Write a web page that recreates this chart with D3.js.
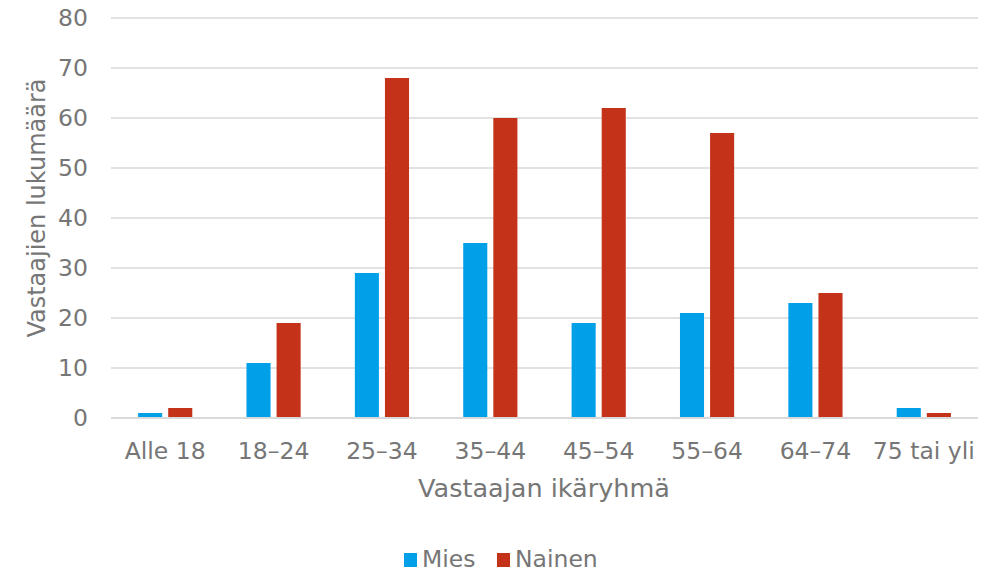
<!DOCTYPE html>
<html>
<head>
<meta charset="utf-8">
<script src="https://cdn.jsdelivr.net/npm/d3@7"></script>
<style>
  body { margin: 0; background: #fff; }
  text { font-family: "DejaVu Sans", Verdana, sans-serif; fill: #767676; }
</style>
</head>
<body>
<div id="chart"></div>
<script>
var categories = ['Alle 18', '18–24', '25–34', '35–44', '45–54', '55–64', '64–74', '75 tai yli']
var mies = [1, 11, 29, 35, 19, 21, 23, 2]
var nainen = [2, 19, 68, 60, 62, 57, 25, 1]
var yTicks = [0, 10, 20, 30, 40, 50, 60, 70, 80]
var seriesNames = ['Mies', 'Nainen']
var colors = ['#00a0e9', '#c4321a']

var margin = { left: 111, right: 21, top: 18, bottom: 155 }
var width = 999 - margin.left - margin.right
var height = 573 - margin.top - margin.bottom

var svg = d3.select('#chart')
  .append('svg')
  .attr('width', 999)
  .attr('height', 573)

var g = svg.append('g')
  .attr('transform', `translate(${margin.left},${margin.top})`)

var x = d3.scaleBand().domain(categories).range([0, width])
var xInner = d3.scaleBand().domain(seriesNames)
  .range([x.bandwidth() * 0.25, x.bandwidth() * 0.75])
  .paddingInner(0.2)
var y = d3.scaleLinear().domain([0, 80]).range([height, 0])

// gridlines
g.selectAll('.grid')
  .data(yTicks.filter(d => d > 0))
  .enter().append('line')
  .attr('x1', 0).attr('x2', width)
  .attr('y1', d => y(d)).attr('y2', d => y(d))
  .attr('stroke', '#d9d9d9').attr('stroke-width', 1.3)

var data = categories.map((c, i) => ({ cat: c, values: [mies[i], nainen[i]] }))

var groups = g.selectAll('.group')
  .data(data)
  .enter().append('g')
  .attr('transform', d => `translate(${x(d.cat)},0)`)

groups.selectAll('rect')
  .data(d => d.values.map((v, j) => ({ name: seriesNames[j], v: v, c: colors[j] })))
  .enter().append('rect')
  .attr('x', d => xInner(d.name))
  .attr('width', xInner.bandwidth())
  .attr('y', d => y(d.v))
  .attr('height', d => height - y(d.v))
  .attr('fill', d => d.c)

// x axis line
g.append('line')
  .attr('x1', 0).attr('x2', width)
  .attr('y1', height).attr('y2', height)
  .attr('stroke', '#d9d9d9').attr('stroke-width', 2)

var xAxis = d3.axisBottom(x).tickSize(0).tickPadding(24)
g.append('g')
  .attr('class', 'axis x-axis')
  .attr('transform', `translate(0,${height})`)
  .call(xAxis)
  .call(s => s.select('.domain').remove())
  .selectAll('text')
  .style('font-size', '23.5px')

var yAxis = d3.axisLeft(y).tickValues(yTicks).tickSize(0).tickPadding(23)
g.append('g')
  .attr('class', 'axis y-axis')
  .call(yAxis)
  .call(s => s.select('.domain').remove())
  .selectAll('text')
  .style('font-size', '23.5px')

g.selectAll('.axis text').style('fill', '#767676').style('font-family', '"DejaVu Sans", Verdana, sans-serif')

// axis titles
svg.append('text')
  .attr('x', 544)
  .attr('y', 497)
  .attr('text-anchor', 'middle')
  .style('font-size', '25.5px')
  .text('Vastaajan ikäryhmä')

svg.append('text')
  .attr('transform', 'translate(45,208) rotate(-90)')
  .attr('text-anchor', 'middle')
  .style('font-size', '24px')
  .text('Vastaajien lukumäärä')

// legend
var legend = svg.append('g').attr('transform', 'translate(404,553)')
var legendX = [0, 93]
seriesNames.forEach((n, i) => {
  var lg = legend.append('g').attr('transform', `translate(${legendX[i]},0)`)
  lg.append('rect').attr('x', 0).attr('y', 0).attr('width', 13).attr('height', 14).attr('fill', colors[i])
  lg.append('text').attr('x', 18).attr('y', 14).style('font-size', '23.5px').text(n)
})
</script>
</body>
</html>
